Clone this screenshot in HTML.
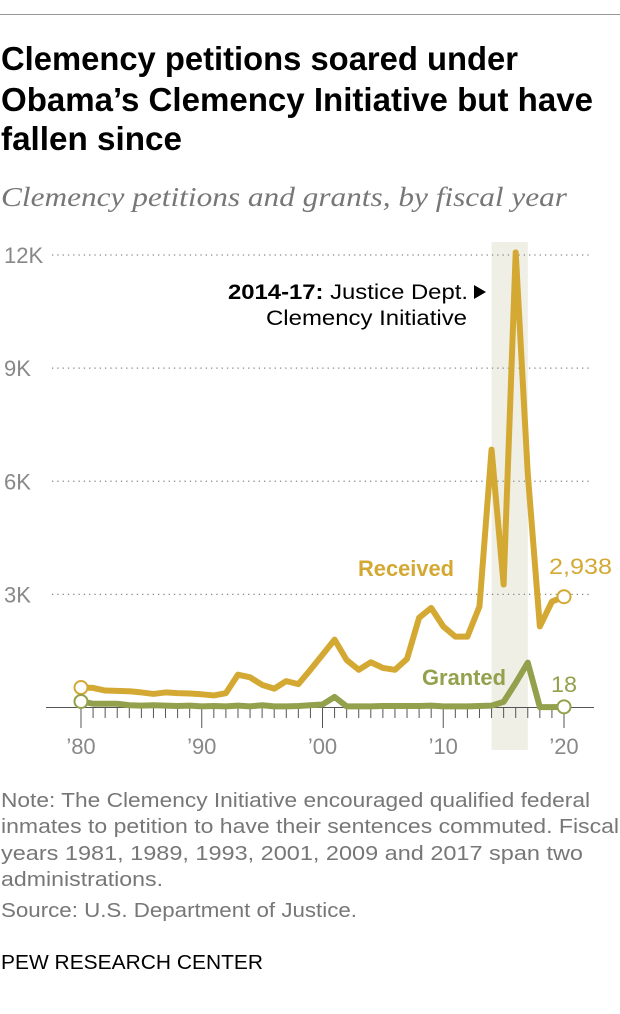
<!DOCTYPE html>
<html><head><meta charset="utf-8"><style>
body{margin:0;background:#fff}
svg{display:block}
.t{font-family:"Liberation Sans Narrow","Liberation Sans",sans-serif}
</style></head><body>
<svg id="chart" width="620" height="1014" viewBox="0 0 620 1014">
<line x1="0" y1="14.5" x2="620" y2="14.5" stroke="#999" stroke-width="1"/>
<g class="t" font-weight="bold" font-size="33" fill="#000">
<text x="1" y="70" textLength="517" lengthAdjust="spacingAndGlyphs">Clemency petitions soared under</text>
<text x="1" y="111" textLength="592" lengthAdjust="spacingAndGlyphs">Obama’s Clemency Initiative but have</text>
<text x="1" y="150" textLength="181" lengthAdjust="spacingAndGlyphs">fallen since</text>
</g>
<text x="1" y="206" font-family="Liberation Serif,serif" font-style="italic" font-size="27" fill="#777" textLength="566" lengthAdjust="spacingAndGlyphs">Clemency petitions and grants, by fiscal year</text>
<g id="plot"></g>
<g class="t" font-size="20" fill="#777">
<text x="1" y="807" textLength="589" lengthAdjust="spacingAndGlyphs">Note: The Clemency Initiative encouraged qualified federal</text>
<text x="1" y="833" textLength="618" lengthAdjust="spacingAndGlyphs">inmates to petition to have their sentences commuted. Fiscal</text>
<text x="1" y="860" textLength="582" lengthAdjust="spacingAndGlyphs">years 1981, 1989, 1993, 2001, 2009 and 2017 span two</text>
<text x="1" y="886" textLength="162" lengthAdjust="spacingAndGlyphs">administrations.</text>
<text x="1" y="917" textLength="356" lengthAdjust="spacingAndGlyphs">Source: U.S. Department of Justice.</text>
</g>
<text x="1" y="969" class="t" font-size="20" fill="#000" textLength="262" lengthAdjust="spacingAndGlyphs">PEW RESEARCH CENTER</text>
</svg>
<script>
const years=[1980,1981,1982,1983,1984,1985,1986,1987,1988,1989,1990,1991,1992,1993,1994,1995,1996,1997,1998,1999,2000,2001,2002,2003,2004,2005,2006,2007,2008,2009,2010,2011,2012,2013,2014,2015,2016,2017,2018,2019,2020];
const received=[0.53,0.52,0.45,0.44,0.43,0.40,0.36,0.40,0.38,0.37,0.35,0.32,0.38,0.87,0.80,0.60,0.50,0.70,0.62,1.0,1.4,1.8,1.26,1.0,1.2,1.05,1.0,1.29,2.38,2.64,2.15,1.88,1.88,2.68,6.84,3.26,12.07,6.2,2.15,2.81,2.938];
const granted=[0.16,0.10,0.10,0.10,0.06,0.05,0.06,0.05,0.04,0.05,0.03,0.04,0.03,0.05,0.03,0.06,0.03,0.03,0.04,0.06,0.08,0.28,0.03,0.03,0.03,0.04,0.04,0.04,0.04,0.05,0.03,0.03,0.03,0.04,0.05,0.15,0.65,1.19,0.01,0.01,0.018];
const yTicks=[0,3,6,9,12];
const yTickLabels=["","3K","6K","9K","12K"];
const xLabelYears=[1980,1990,2000,2010,2020];
const xLabels=["’80","’90","’00","’10","’20"];
const NS="http://www.w3.org/2000/svg";
const g=document.getElementById('plot');
const x=v=>81+(v-1980)*12.075;
const y=v=>707.5-v*(452.5/12);
function el(t,a,p){const e=document.createElementNS(NS,t);for(const k in a)e.setAttribute(k,a[k]);(p||g).appendChild(e);return e;}
const band=el('rect',{x:x(2014),y:242,width:x(2017)-x(2014),height:508,fill:'#efefe6'});


yTicks.forEach((t,i)=>{
 if(t>0){const l=el('line',{x1:52,x2:592,y1:y(t),y2:y(t),stroke:'#888','stroke-width':1.3,'stroke-dasharray':'1.3 4'});
 
 }
 const tx=el('text',{x:4,y:y(t)+8,'font-size':22,fill:'#888',class:'t'});tx.textContent=yTickLabels[i];
 
 
});
const ax=el('line',{x1:46,x2:594,y1:707.5,y2:707.5,stroke:'#555','stroke-width':1});


years.forEach(yr=>{const big=yr%10===0;const tk=el('line',{x1:x(yr),x2:x(yr),y1:708,y2:big?728:718,stroke:'#555','stroke-width':1});
 
 });
xLabelYears.forEach((yr,i)=>{const t=el('text',{x:x(yr),y:754,'font-size':22,fill:'#888','text-anchor':'middle',class:'t'});t.textContent=xLabels[i];
 
 });
function line(vals,col,name){
 const p=el('polyline',{points:vals.map((v,i)=>x(years[i])+','+y(v)).join(' '),fill:'none',stroke:col,'stroke-width':6,'stroke-linejoin':'round','stroke-linecap':'round'});
 
 
 [0,vals.length-1].forEach(i=>{const c=el('circle',{cx:x(years[i]),cy:y(vals[i]),r:6.5,fill:'#fff',stroke:col,'stroke-width':2});
 
 });
}
line(received,'#d4a933','received-line');
line(granted,'#93a04c','granted-line');
function lab(txt,xx,yy,col,w,name,bold){const t=el('text',{x:xx,y:yy,'font-size':22,fill:col,class:'t','font-weight':bold?'bold':'normal',textLength:w,lengthAdjust:'spacingAndGlyphs'});t.textContent=txt;
 
 }
lab('Received',358,576,'#d4a933',96,'received-label',true);
lab('Granted',422,685,'#93a04c',84,'granted-label',true);
lab(received[received.length-1].toFixed(3).replace('.',','),549,574,'#d4a933',63,'received-value-label',false);
lab(String(Math.round(granted[granted.length-1]*1000)),551,692,'#93a04c',26,'granted-value-label',false);
const a1=el('text',{x:228,y:299,'font-size':21,fill:'#000',class:'t',textLength:240,lengthAdjust:'spacingAndGlyphs'});
a1.innerHTML='<tspan font-weight="bold">2014-17:</tspan> Justice Dept.';


const a2=el('text',{x:266,y:325,'font-size':21,fill:'#000',class:'t',textLength:201,lengthAdjust:'spacingAndGlyphs'});a2.textContent='Clemency Initiative';


const tri=el('polygon',{points:'474,285 486,292 474,299',fill:'#000'});


</script>
</body></html>
